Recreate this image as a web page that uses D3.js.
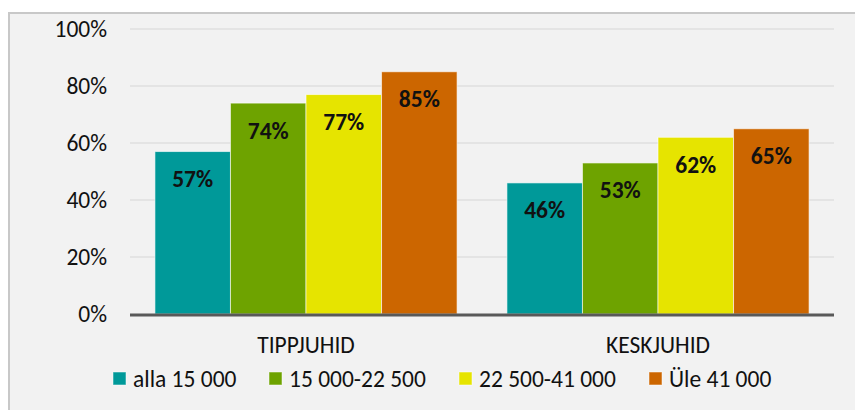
<!DOCTYPE html>
<html>
<head>
<meta charset="utf-8">
<script src="https://cdn.jsdelivr.net/npm/d3@7"></script>
<style>
  html, body { margin: 0; padding: 0; background: #ffffff; }
  svg { display: block; }
  text { font-family: Carlito, Calibri, Lato, "Open Sans", sans-serif; fill: #111; }
</style>
</head>
<body>
<svg id="chart" width="855" height="410"></svg>
<script>
// Groups along the x axis
const categories = ["TIPPJUHID", "KESKJUHID"];
// Income bands (legend order)
const seriesNames = ["alla 15 000", "15 000-22 500", "22 500-41 000", "Üle 41 000"];
const seriesColors = ["#009999", "#6ea300", "#e6e400", "#cc6600"];
// Share per group, one array per income band
const alla15000 = [0.57, 0.46];
const s15000to22500 = [0.74, 0.53];
const s22500to41000 = [0.77, 0.62];
const ule41000 = [0.85, 0.65];
const seriesValues = [alla15000, s15000to22500, s22500to41000, ule41000];
// Y axis ticks
const yTicks = [0, 0.2, 0.4, 0.6, 0.8, 1.0];

const FONT = "Carlito, Calibri, Lato, 'Open Sans', sans-serif";
const FS = 23.5;
const svg = d3.select("#chart");

// chart area background and frame
svg.append("rect")
  .attr("x", 9).attr("y", 13).attr("width", 860).attr("height", 410)
  .attr("fill", "#f2f2f2").attr("stroke", "#c8c8c8").attr("stroke-width", 2);

const plot = { left: 130, right: 834, top: 29, bottom: 314 };

const y = d3.scaleLinear().domain([0, 1]).range([plot.bottom, plot.top]);
const x0 = d3.scaleBand().domain(categories).range([plot.left, plot.right]).padding(0);
const x1 = d3.scaleBand().domain(seriesNames).range([0, x0.bandwidth()])
  .paddingInner(0).paddingOuter(0.33);

const fmt = d3.format(".0%");

// gridlines
svg.append("g")
  .selectAll("line")
  .data(yTicks.filter(d => d > 0))
  .join("line")
  .attr("x1", plot.left).attr("x2", plot.right)
  .attr("y1", d => y(d)).attr("y2", d => y(d))
  .attr("stroke", "#d6d6d6").attr("stroke-width", 1.2);

// y axis labels
const yAxis = d3.axisLeft(y).tickValues(yTicks).tickFormat(fmt).tickSize(0).tickPadding(0);
const yg = svg.append("g").attr("transform", `translate(107,0)`).call(yAxis);
yg.select(".domain").remove();
yg.selectAll("text")
  .attr("font-size", FS)
  .attr("dy", "0.32em")
  .style("font-family", FONT)
  .attr("fill", "#111");

// bars
const rows = categories.map((c, ci) => ({
  cat: c,
  vals: seriesNames.map((s, si) => ({ series: s, color: seriesColors[si], value: seriesValues[si][ci] }))
}));

const groups = svg.append("g")
  .selectAll("g")
  .data(rows)
  .join("g")
  .attr("transform", d => `translate(${x0(d.cat)},0)`);

groups.selectAll("rect")
  .data(d => d.vals)
  .join("rect")
  .attr("x", d => x1(d.series))
  .attr("y", d => y(d.value))
  .attr("width", x1.bandwidth())
  .attr("height", d => y(0) - y(d.value))
  .attr("fill", d => d.color)
  .attr("stroke", "rgba(255,255,255,0.6)")
  .attr("stroke-width", 1);

groups.selectAll("text.val")
  .data(d => d.vals)
  .join("text")
  .attr("class", "val")
  .attr("x", d => x1(d.series) + x1.bandwidth() / 2)
  .attr("y", d => y(d.value) + 28)
  .attr("dy", "0.32em")
  .attr("text-anchor", "middle")
  .attr("font-size", FS)
  .attr("font-weight", "bold")
  .text(d => fmt(d.value));

// x axis line
svg.append("line")
  .attr("x1", plot.left).attr("x2", plot.right)
  .attr("y1", y(0) + 1).attr("y2", y(0) + 1)
  .attr("stroke", "#595959").attr("stroke-width", 3);

// category labels
const xAxis = d3.axisBottom(x0).tickSize(0).tickPadding(0);
const xg = svg.append("g").attr("transform", `translate(0,${y(0) + 31})`).call(xAxis);
xg.select(".domain").remove();
xg.selectAll("text")
  .attr("y", 0)
  .attr("dy", "0.32em")
  .attr("font-size", FS)
  .style("font-family", FONT)
  .attr("fill", "#111");

// legend
const legendX = [113, 269, 459, 649];
const legend = svg.append("g")
  .selectAll("g")
  .data(seriesNames)
  .join("g")
  .attr("transform", (d, i) => `translate(${legendX[i]},372)`);
legend.append("rect")
  .attr("width", 13).attr("height", 13)
  .attr("fill", (d, i) => seriesColors[i])
  .attr("stroke", "rgba(255,255,255,0.5)").attr("stroke-width", 1);
legend.append("text")
  .attr("x", 20).attr("y", 7)
  .attr("dy", "0.32em")
  .attr("font-size", FS)
  .text(d => d);
</script>
</body>
</html>
